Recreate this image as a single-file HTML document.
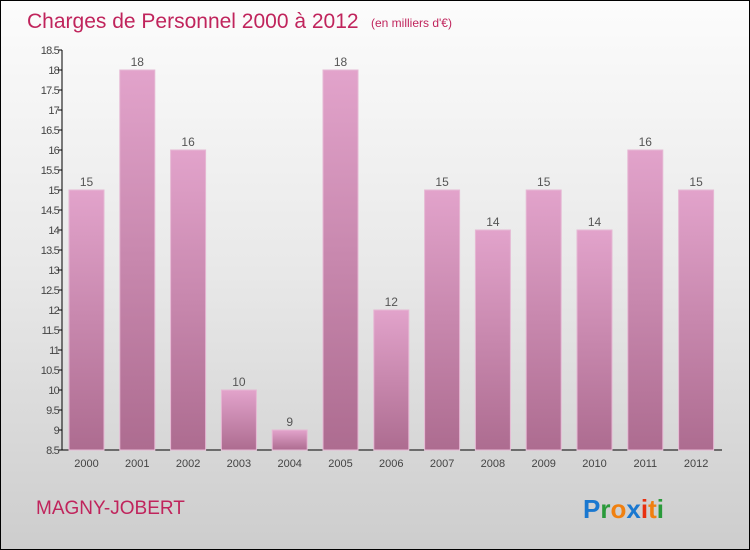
<!DOCTYPE html>
<html><head><meta charset="utf-8"><style>
body{margin:0}
#c{width:748px;height:548px;border:1px solid #000;background:linear-gradient(#fcfcfc,#e8e8e8 50%,#cdcdcd);position:relative;font-family:"Liberation Sans",sans-serif}
</style></head><body>
<div id="c">
<svg id="s" width="748" height="548" style="position:absolute;left:0;top:0">
<defs><linearGradient id="g" x1="0" y1="0" x2="0" y2="1"><stop offset="0" stop-color="#e2a3cb"/><stop offset="1" stop-color="#ad6c90"/></linearGradient></defs>
<text x="26" y="27" font-size="21" fill="#c0245c">Charges de Personnel 2000 à 2012</text>
<text x="370" y="26" font-size="12" fill="#c0245c">(en milliers d'€)</text>
<text x="35" y="513" font-size="19" fill="#c0245c">MAGNY-JOBERT</text>
<g font-size="26" font-weight="bold" font-family="'Liberation Sans',sans-serif">
<text x="582" y="517"><tspan fill="#1a78d0">P</tspan><tspan fill="#2a9a3a">r</tspan><tspan fill="#f08010">o</tspan><tspan fill="#1a78d0">x</tspan><tspan fill="#e83010">i</tspan><tspan fill="#f08010">t</tspan><tspan fill="#2a9a3a">i</tspan></text></g>
<g id="plot"></g>
</svg>
</div>
<script>
const categories=["2000","2001","2002","2003","2004","2005","2006","2007","2008","2009","2010","2011","2012"];
const values=[15,18,16,10,9,18,12,15,14,15,14,16,15];
const yTicks=[8.5,9,9.5,10,10.5,11,11.5,12,12.5,13,13.5,14,14.5,15,15.5,16,16.5,17,17.5,18,18.5];
const NS="http://www.w3.org/2000/svg";
const g=document.getElementById('plot');
const yMin=8.5,yMax=18.5,y0=449,y1=49;
const y=v=>y0-(v-yMin)/(yMax-yMin)*(y0-y1);
const x=i=>85.5+i*50.8;
function el(t,a){const e=document.createElementNS(NS,t);for(const k in a)e.setAttribute(k,a[k]);g.appendChild(e);return e;}
let ax=el('line',{x1:61,y1:y1,x2:61,y2:y0,stroke:'#000'});


let bx=el('line',{x1:61,y1:y0,x2:721,y2:y0,stroke:'#000'});


yTicks.forEach(v=>{
 const tk=el('line',{x1:57,x2:61,y1:y(v),y2:y(v),stroke:'#000'});
 
 
 const t=el('text',{x:58,y:y(v)+4,'font-size':11,'text-anchor':'end',fill:'#444','letter-spacing':'-0.8'});
 t.textContent=String(v);
 
 
});
values.forEach((v,i)=>{
 const r=el('rect',{x:x(i)-17.5,y:y(v),width:35,height:y0-y(v),fill:'url(#g)',stroke:'#e6b8d4','stroke-width':1});
 
 
 const t=el('text',{x:x(i),y:y(v)-4,'font-size':12,'text-anchor':'middle',fill:'#555'});
 t.textContent=v;
 
 
 const c=el('text',{x:x(i),y:466,'font-size':11,'text-anchor':'middle',fill:'#444'});
 c.textContent=categories[i];
 
 
});
</script>
</body></html>
